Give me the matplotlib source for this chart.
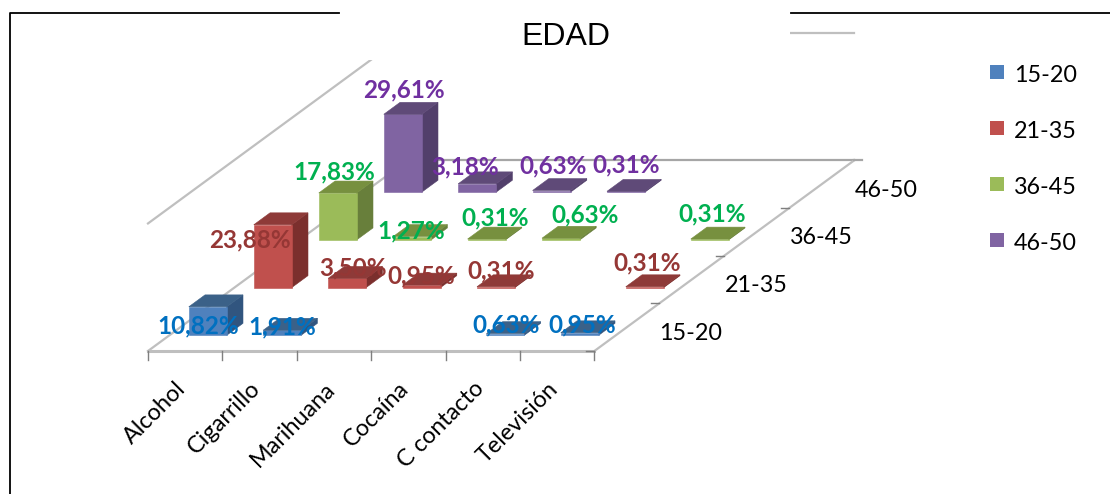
import matplotlib
matplotlib.use("Agg")
import matplotlib.pyplot as plt
from matplotlib.patches import Polygon, Rectangle

categories = ["Alcohol", "Cigarrillo", "Marihuana", "Cocaína", "C contacto", "Televisión"]
series_names = ["15-20", "21-35", "36-45", "46-50"]
v_15_20 = [10.82, 1.91, 0, 0, 0.63, 0.95]
v_21_35 = [23.88, 3.50, 0.95, 0.31, 0, 0.31]
v_36_45 = [17.83, 1.27, 0.31, 0.63, 0, 0.31]
v_46_50 = [29.61, 3.18, 0.63, 0.31, 0, 0]
all_values = [v_15_20, v_21_35, v_36_45, v_46_50]
axis_max = 50

# (front, top, side, label) colours per series
palette = [
    ("#4F81BD", "#3B6188", "#31557F", "#0070C0"),
    ("#C0504D", "#8E3A38", "#7B2F2D", "#953735"),
    ("#9BBB59", "#77903F", "#687F3B", "#00B050"),
    ("#8064A2", "#5F4A78", "#523F6B", "#7030A0"),
]
# label offsets (px) from the centre of the bar's front-top edge
offsets = {
    (0, 0): (-10, 19), (0, 1): (0, -3), (0, 4): (1, -9), (0, 5): (2, -8),
    (1, 0): (-23, 15), (1, 1): (6, -10), (1, 2): (0, -9), (1, 3): (5, -16), (1, 5): (2, -24),
    (2, 0): (-4, -21), (2, 1): (-1, -6), (2, 2): (9, -21), (2, 3): (24, -23), (2, 5): (2, -25),
    (3, 0): (1, -24), (3, 1): (-12, -17), (3, 2): (1, -25), (3, 3): (0, -26),
}

X0, Y0 = 148.0, 351.0
CAT_DX = 74.4
SER_DX, SER_DY = 65.0, -47.7
PX_PER_UNIT = 2.63
F_CAT, W_CAT = 0.26, 0.51
F_SER, D_SER = 0.33, 0.25
GRID = "#BFBFBF"
LABEL_PT = 17.5
TICK_PT = 16.8


def P(c, s, z=0.0):
    return (X0 + c * CAT_DX + s * SER_DX, Y0 + s * SER_DY - z * PX_PER_UNIT)


fig = plt.figure(figsize=(11.10, 4.94), dpi=100)
ax = fig.add_axes([0, 0, 1, 1])
ax.set_xlim(0, 1110)
ax.set_ylim(494, 0)
ax.axis("off")

nc, ns = len(categories), len(series_names)
lw = 1.6
# floor and walls
wall_top = axis_max * 0.97
ax.plot(*zip(P(0, 0), P(0, ns)), color=GRID, lw=lw, zorder=1)
ax.plot(*zip(P(0, ns), P(nc, ns)), color="#A6A6A6", lw=lw, zorder=1)
ax.plot(*zip(P(nc, 0), P(nc, ns)), color=GRID, lw=lw, zorder=1)
ax.plot(*zip(P(0, 0), P(nc, 0)), color=GRID, lw=2.2, zorder=1)
ax.plot(*zip(P(0, 0, wall_top), P(0, ns, wall_top)), color=GRID, lw=lw, zorder=1)
ax.plot(*zip(P(0, ns, wall_top), P(nc, ns, wall_top)), color=GRID, lw=lw, zorder=1)
ax.plot([P(nc, ns)[0], P(nc, ns)[0] + 8], [P(nc, ns)[1]] * 2, color="#A6A6A6", lw=lw, zorder=1)
# ticks
for c in range(nc + 1):
    x, y = P(c, 0)
    ax.plot([x, x], [y, y + 9], color="#7F7F7F", lw=1, zorder=1)
for s in range(ns):
    x, y = P(nc, s)
    ax.plot([x - 8, x], [y, y], color="#7F7F7F", lw=1, zorder=1)

# white title block interrupts frame and walls
ax.add_patch(Rectangle((339, 0), 451, 60, fc="white", ec="none", zorder=2))

z = 3
for s in range(ns - 1, -1, -1):
    front, top, side, lab = palette[s]
    for c in range(nc):
        v = all_values[s][c]
        if v <= 0:
            continue
        c0, c1 = c + F_CAT, c + F_CAT + W_CAT
        s0, s1 = s + F_SER, s + F_SER + D_SER
        ax.add_patch(Polygon([P(c1, s0, 0), P(c1, s1, 0), P(c1, s1, v), P(c1, s0, v)],
                             fc=side, ec=side, lw=0.4, zorder=z))
        ax.add_patch(Polygon([P(c0, s0, 0), P(c1, s0, 0), P(c1, s0, v), P(c0, s0, v)],
                             fc=front, ec=front, lw=0.4, zorder=z))
        ax.add_patch(Polygon([P(c0, s0, v), P(c1, s0, v), P(c1, s1, v), P(c0, s1, v)],
                             fc=top, ec=top, lw=0.4, zorder=z))
        z += 1

for s in range(ns):
    lab = palette[s][3]
    for c in range(nc):
        v = all_values[s][c]
        if v <= 0:
            continue
        x, y = P(c + F_CAT + W_CAT / 2, s + F_SER, v)
        dx, dy = offsets[(s, c)]
        ax.text(x + dx, y + dy, f"{v:.2f}%".replace(".", ","), color=lab, ha="center", va="center",
                family="Lato", weight="bold", fontsize=LABEL_PT, zorder=200)

# category labels
for c, name in enumerate(categories):
    x, y = P(c + 0.5, 0)
    ax.text(x - 10, y + 27, name, rotation=45, rotation_mode="anchor", ha="right", va="top",
            family="Lato", fontsize=TICK_PT, color="black", zorder=200)

# series labels
for s, name in enumerate(series_names):
    x, y = P(nc, s + 0.5)
    ax.text(x + 64, y + 6, name, ha="center", va="center", family="Lato", fontsize=TICK_PT,
            color="black", zorder=200)

# legend
leg_y = [72, 128, 184, 240]
for s, name in enumerate(series_names):
    ax.add_patch(Rectangle((990, leg_y[s] - 7), 14, 14, fc=palette[s][0], ec="none", zorder=200))
    ax.text(1014, leg_y[s] + 3, name, ha="left", va="center", family="Lato", fontsize=TICK_PT,
            color="black", zorder=200)

# frame
ax.plot([9.5, 9.5, 339], [494, 13, 13], color="black", lw=1.3, zorder=201)
ax.plot([791, 1110], [13, 13], color="black", lw=1.3, zorder=201)

ax.text(566, 37, "EDAD", ha="center", va="center", family="Liberation Sans", fontsize=23,
        color="black", zorder=200)

fig.savefig("out.png", dpi=100)
